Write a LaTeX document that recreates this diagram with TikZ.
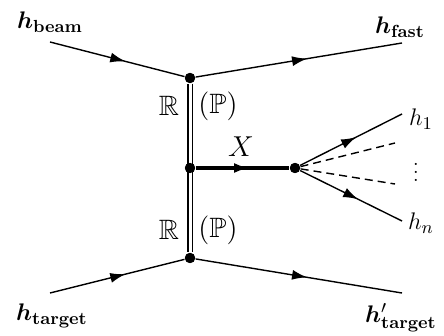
\documentclass[tikz,border=0pt]{standalone}
\usepackage{amssymb,amsmath,bm}
\usepackage{tikz}
\usetikzlibrary{arrows.meta, decorations.markings}

\begin{document}
\begin{tikzpicture}[x=0.5pt, y=-0.5pt, line width=0.7pt,
  midarrow/.style={postaction={decorate}, decoration={markings, mark=at position #1 with {\arrow{Latex[length=7.5pt,width=5pt]}}}},
  midarrow/.default=0.56,
  vtx/.style={circle, fill, inner sep=0pt, minimum size=5pt},
  lbl/.style={inner sep=0pt, font=\fontsize{12.5}{15}\selectfont},
  mlbl/.style={inner sep=0pt, font=\fontsize{14}{16}\selectfont},
  slbl/.style={inner sep=0pt, font=\fontsize{13}{15}\selectfont}]
  \useasboundingbox (0,0) rectangle (444,336);
  % vertices
  \node[vtx] (V1) at (190,78) {};
  \node[vtx] (V2) at (190,258) {};
  \node[vtx] (V0) at (190,168) {};
  \node[vtx] (D) at (295,168) {};
  % free ends
  \coordinate (Beam) at (50,42);
  \coordinate (Fast) at (402,43);
  \coordinate (Targ) at (50,293);
  \coordinate (TargP) at (402,293);
  \coordinate (H1) at (402,114);
  \coordinate (Hn) at (402,221);
  \coordinate (E1) at (395,143);
  \coordinate (E2) at (395,184);
  % labels
  \node[lbl] (Lbeam) at (50,22) {$\bm{h}_{\textbf{beam}}$};
  \node[lbl] (Lfast) at (400,27) {$\bm{h}_{\textbf{fast}}$};
  \node[lbl] (Ltarg) at (52,316) {$\bm{h}_{\textbf{target}}$};
  \node[lbl] (LtargP) at (401,318) {$\bm{h}'_{\textbf{target}}$};
  \node[slbl] (L1) at (421,119) {$h_1$};
  \node[slbl] (Ln) at (421,223) {$h_n$};
  \node[inner sep=0pt] (Ldots) at (416,166) {$\vdots$};
  \node[mlbl] (LX) at (241,147) {$X$};
  \node[mlbl] (R1) at (169,106) {$\mathbb{R}$};
  \node[mlbl] (P1) at (218,106) {$(\mathbb{P})$};
  \node[mlbl] (R2) at (169,230) {$\mathbb{R}$};
  \node[mlbl] (P2) at (218,230) {$(\mathbb{P})$};
  % lines
  \draw[midarrow] (Beam) -- (V1);
  \draw[midarrow=0.54] (V1) -- (Fast);
  \draw[midarrow] (Targ) -- (V2);
  \draw[midarrow=0.54] (V2) -- (TargP);
  \draw[double, double distance=1.5pt, line width=0.7pt] (V1) -- (V2);
  \draw[line width=2pt, midarrow=0.57] (V0) -- (D);
  \draw[midarrow=0.55] (D) -- (H1);
  \draw[midarrow=0.57] (D) -- (Hn);
  \foreach \e in {E1,E2}{\draw[dash pattern=on 4pt off 2.5pt] (D) -- (\e);}
  \foreach \v in {V1,V2,V0,D}{\fill (\v) circle (2.6pt);}
\end{tikzpicture}
\end{document}
